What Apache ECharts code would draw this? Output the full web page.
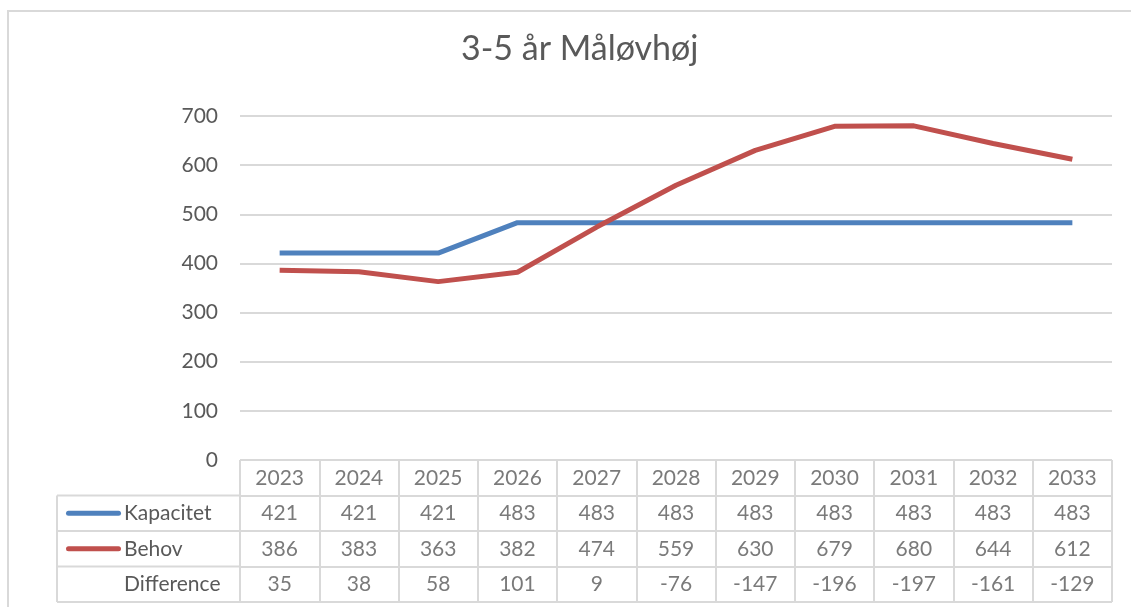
<!DOCTYPE html>
<html>
<head>
<meta charset="utf-8">
<script src="https://cdn.jsdelivr.net/npm/echarts@6/dist/echarts.min.js"></script>
<style>
  html, body { margin: 0; padding: 0; background: #fff; }
  #main { width: 1131px; height: 607px; }
</style>
</head>
<body>
<div id="main"></div>
<script>
// data
var years = ['2023', '2024', '2025', '2026', '2027', '2028', '2029', '2030', '2031', '2032', '2033'];
var kapacitet = [421, 421, 421, 483, 483, 483, 483, 483, 483, 483, 483];
var behov = [386, 383, 363, 382, 474, 559, 630, 679, 680, 644, 612];
var difference = [35, 38, 58, 101, 9, -76, -147, -196, -197, -161, -129];
var rows = ['hdr', 'Kapacitet', 'Behov', 'Difference'];

var textColor = '#595959';
var gridColor = '#d9d9d9';
var font = 'Lato';
var fs = 21;

// table cells, one point per cell
var cells = [];
years.forEach(function (y, i) {
    cells.push([y, 'hdr', y]);
    cells.push([y, 'Kapacitet', kapacitet[i]]);
    cells.push([y, 'Behov', behov[i]]);
    cells.push([y, 'Difference', difference[i]]);
});

var chart = echarts.init(document.getElementById('main'));

// left column frame of the data table
var leftX = 57, colX = 240;
var rowLines = [495.5, 531, 566.5, 602];
var frame = [];
rowLines.forEach(function (y) {
    frame.push({type: 'line', shape: {x1: leftX, y1: y, x2: colX, y2: y},
        style: {stroke: gridColor, lineWidth: 2}});
});
frame.push({type: 'line', shape: {x1: leftX, y1: 495.5, x2: leftX, y2: 602},
    style: {stroke: gridColor, lineWidth: 2}});
frame.push({type: 'rect', shape: {x: 8, y: 11, width: 1300, height: 700},
    style: {fill: null, stroke: gridColor, lineWidth: 2}, z: -1});

var option = {
    animation: false,
    textStyle: {fontFamily: font},
    title: {
        text: '3-5 år Måløvhøj',
        left: 456,
        top: 27,
        textStyle: {fontSize: 34, fontWeight: 'normal', color: textColor, fontFamily: font}
    },
    graphic: frame,
    grid: [
        {left: 240, right: 19, top: 116, bottom: 147},
        {left: 240, right: 19, top: 460, bottom: 5}
    ],
    xAxis: [
        {
            type: 'category', gridIndex: 0, data: years, boundaryGap: true,
            axisLine: {show: false}, axisTick: {show: false}, axisLabel: {show: false}
        },
        {
            type: 'category', gridIndex: 1, data: years, boundaryGap: true,
            axisLine: {show: false}, axisTick: {show: false}, axisLabel: {show: false},
            splitLine: {show: true, lineStyle: {color: gridColor, width: 2}}
        }
    ],
    yAxis: [
        {
            type: 'value', gridIndex: 0, min: 0, max: 700, interval: 100,
            axisLine: {show: false}, axisTick: {show: false},
            axisLabel: {fontSize: fs, color: textColor, margin: 22},
            splitLine: {lineStyle: {color: gridColor, width: 2}}
        },
        {
            type: 'category', gridIndex: 1, data: rows, inverse: true, boundaryGap: true,
            axisLine: {show: false}, axisTick: {show: false},
            splitLine: {show: true, lineStyle: {color: gridColor, width: 2}},
            axisLabel: {
                align: 'left', margin: 174,
                formatter: function (v) {
                    if (v === 'Kapacitet') return '{kb|}{t|' + v + '}';
                    if (v === 'Behov') return '{bb|}{t|' + v + '}';
                    if (v === 'Difference') return '{sp|}{t|' + v + '}';
                    return '';
                },
                rich: {
                    kb: {width: 55, height: 5, backgroundColor: '#4F81BD', borderRadius: 3},
                    bb: {width: 55, height: 5, backgroundColor: '#C0504D', borderRadius: 3},
                    sp: {width: 55, height: 5},
                    t: {fontSize: fs, color: textColor, fontFamily: font, padding: [0, 0, 0, 3]}
                }
            }
        }
    ],
    series: [
        {
            name: 'Kapacitet', type: 'line', xAxisIndex: 0, yAxisIndex: 0,
            data: kapacitet, showSymbol: false, color: '#4F81BD',
            lineStyle: {width: 5, color: '#4F81BD'}
        },
        {
            name: 'Behov', type: 'line', xAxisIndex: 0, yAxisIndex: 0,
            data: behov, showSymbol: false, color: '#C0504D',
            lineStyle: {width: 5, color: '#C0504D'}
        },
        {
            name: 'table', type: 'scatter', xAxisIndex: 1, yAxisIndex: 1,
            data: cells, symbolSize: 0, silent: true,
            label: {
                show: true, position: 'inside', fontSize: fs, color: textColor, fontFamily: font,
                formatter: function (p) { return String(p.value[2]); }
            }
        }
    ]
};

chart.setOption(option);
</script>
</body>
</html>
